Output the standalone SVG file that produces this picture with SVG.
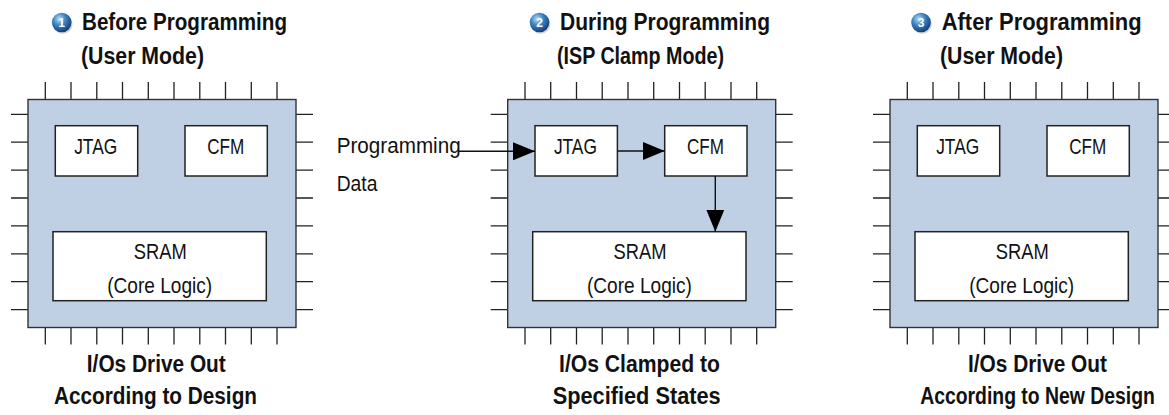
<svg xmlns="http://www.w3.org/2000/svg" xmlns:xlink="http://www.w3.org/1999/xlink" width="1169" height="415" viewBox="0 0 1169 415">
  <style>
    .chip { fill: #BFD0E5; stroke: #333; stroke-width: 1.4; }
    .blk { fill: #fff; stroke: #222; stroke-width: 1.5; }
    .pin { fill: none; stroke: #222; stroke-width: 1.3; }
    .wire { fill: none; stroke: #111; stroke-width: 1.4; }
    .title { font-family: "Liberation Sans Narrow", "Liberation Sans", Arial, sans-serif; font-weight: bold; font-size: 23.5px; fill: #111; }
    .lbl { font-family: "Liberation Sans Narrow", "Liberation Sans", Arial, sans-serif; font-size: 22px; fill: #111; }
    .num { font-family: "Liberation Sans", Arial, sans-serif; font-weight: bold; font-size: 12px; fill: #fff; }
  </style>
  <defs>
    <radialGradient id="ball" cx="0.38" cy="0.32" r="0.7">
      <stop offset="0" stop-color="#B9DDF5"/>
      <stop offset="0.45" stop-color="#3F86C4"/>
      <stop offset="1" stop-color="#0E3E78"/>
    </radialGradient>
    <marker id="arrow" markerUnits="userSpaceOnUse" markerWidth="22" markerHeight="18" viewBox="0 0 22 18" refX="22" refY="9" orient="auto">
      <path d="M0,0 L22,9 L0,18 Z" fill="#000"/>
    </marker>
    <!-- package outline with pins, laid out at the first chip's position -->
    <g id="pkg">
      <path class="pin" d="M45.3 82V99.5M71 82V99.5M96.8 82V99.5M122.5 82V99.5M148.3 82V99.5M174 82V99.5M199.8 82V99.5M225.5 82V99.5M251.3 82V99.5M277 82V99.5"/>
      <path class="pin" d="M45.3 327.5V344.5M71 327.5V344.5M96.8 327.5V344.5M122.5 327.5V344.5M148.3 327.5V344.5M174 327.5V344.5M199.8 327.5V344.5M225.5 327.5V344.5M251.3 327.5V344.5M277 327.5V344.5"/>
      <path class="pin" d="M11 114.3H28M11 142.2H28M11 170.1H28M11 198H28M11 225.9H28M11 253.8H28M11 281.7H28M11 309.6H28"/>
      <path class="pin" d="M296 114.3H313M296 142.2H313M296 170.1H313M296 198H313M296 225.9H313M296 253.8H313M296 281.7H313M296 309.6H313"/>
      <rect class="chip" x="28" y="99.5" width="268" height="228"/>
    </g>
    <g id="badge">
      <circle cx="1" cy="1.5" r="9.8" fill="#000" opacity="0.18"/>
      <circle cx="0" cy="0" r="9.8" fill="url(#ball)"/>
    </g>
  </defs>

  <!-- stage 1: before programming -->
  <g id="stage1">
    <use xlink:href="#badge" x="61.7" y="22.5"/>
    <text class="num" x="61.7" y="26.8" text-anchor="middle">1</text>
    <text class="title" x="82" y="30" textLength="205" lengthAdjust="spacingAndGlyphs">Before Programming</text>
    <text class="title" x="81" y="64" textLength="123" lengthAdjust="spacingAndGlyphs">(User Mode)</text>
    <use xlink:href="#pkg"/>
    <g id="jtag1">
      <rect class="blk" x="55.3" y="125.7" width="82.4" height="50.3"/>
      <text class="lbl" x="95.7" y="154" text-anchor="middle" textLength="43" lengthAdjust="spacingAndGlyphs">JTAG</text>
    </g>
    <g id="cfm1">
      <rect class="blk" x="185" y="125.7" width="82.3" height="50.3"/>
      <text class="lbl" x="225.7" y="154" text-anchor="middle" textLength="37" lengthAdjust="spacingAndGlyphs">CFM</text>
    </g>
    <g id="sram1">
      <rect class="blk" x="53" y="231.7" width="213.3" height="69"/>
      <text class="lbl" x="160.3" y="259" text-anchor="middle" textLength="53" lengthAdjust="spacingAndGlyphs">SRAM</text>
      <text class="lbl" x="159.7" y="293" text-anchor="middle" textLength="105" lengthAdjust="spacingAndGlyphs">(Core Logic)</text>
    </g>
    <text class="title" x="156.3" y="371.5" text-anchor="middle" textLength="139" lengthAdjust="spacingAndGlyphs">I/Os Drive Out</text>
    <text class="title" x="155.5" y="403.5" text-anchor="middle" textLength="203" lengthAdjust="spacingAndGlyphs">According to Design</text>
  </g>

  <!-- stage 2: during programming -->
  <g id="stage2">
    <use xlink:href="#badge" x="539.5" y="22.5"/>
    <text class="num" x="539.5" y="26.8" text-anchor="middle">2</text>
    <text class="title" x="560" y="30" textLength="210" lengthAdjust="spacingAndGlyphs">During Programming</text>
    <text class="title" x="557" y="64" textLength="167" lengthAdjust="spacingAndGlyphs">(ISP Clamp Mode)</text>
    <use xlink:href="#pkg" x="479.7"/>
    <g id="jtag2">
      <rect class="blk" x="535" y="125.7" width="82.4" height="50.3"/>
      <text class="lbl" x="575.4" y="154" text-anchor="middle" textLength="43" lengthAdjust="spacingAndGlyphs">JTAG</text>
    </g>
    <g id="cfm2">
      <rect class="blk" x="664.7" y="125.7" width="82.3" height="50.3"/>
      <text class="lbl" x="705.4" y="154" text-anchor="middle" textLength="37" lengthAdjust="spacingAndGlyphs">CFM</text>
    </g>
    <g id="sram2">
      <rect class="blk" x="532.7" y="231.7" width="213.3" height="69"/>
      <text class="lbl" x="640" y="259" text-anchor="middle" textLength="53" lengthAdjust="spacingAndGlyphs">SRAM</text>
      <text class="lbl" x="639.4" y="293" text-anchor="middle" textLength="105" lengthAdjust="spacingAndGlyphs">(Core Logic)</text>
    </g>
    <text class="lbl" x="336.7" y="153" textLength="124" lengthAdjust="spacingAndGlyphs">Programming</text>
    <text class="lbl" x="336.7" y="190.5" textLength="40.7" lengthAdjust="spacingAndGlyphs">Data</text>
    <text class="title" x="639.5" y="371.5" text-anchor="middle" textLength="161" lengthAdjust="spacingAndGlyphs">I/Os Clamped to</text>
    <text class="title" x="636.7" y="403.5" text-anchor="middle" textLength="168" lengthAdjust="spacingAndGlyphs">Specified States</text>
  </g>

  <!-- stage 3: after programming -->
  <g id="stage3">
    <use xlink:href="#badge" x="921" y="22.5"/>
    <text class="num" x="921" y="26.8" text-anchor="middle">3</text>
    <text class="title" x="941.7" y="30" textLength="200" lengthAdjust="spacingAndGlyphs">After Programming</text>
    <text class="title" x="940" y="64" textLength="123" lengthAdjust="spacingAndGlyphs">(User Mode)</text>
    <use xlink:href="#pkg" x="862"/>
    <g id="jtag3">
      <rect class="blk" x="917.3" y="125.7" width="82.4" height="50.3"/>
      <text class="lbl" x="957.7" y="154" text-anchor="middle" textLength="43" lengthAdjust="spacingAndGlyphs">JTAG</text>
    </g>
    <g id="cfm3">
      <rect class="blk" x="1047" y="125.7" width="82.3" height="50.3"/>
      <text class="lbl" x="1087.7" y="154" text-anchor="middle" textLength="37" lengthAdjust="spacingAndGlyphs">CFM</text>
    </g>
    <g id="sram3">
      <rect class="blk" x="915" y="231.7" width="213.3" height="69"/>
      <text class="lbl" x="1022.3" y="259" text-anchor="middle" textLength="53" lengthAdjust="spacingAndGlyphs">SRAM</text>
      <text class="lbl" x="1021.7" y="293" text-anchor="middle" textLength="105" lengthAdjust="spacingAndGlyphs">(Core Logic)</text>
    </g>
    <text class="title" x="1037.5" y="371.5" text-anchor="middle" textLength="139" lengthAdjust="spacingAndGlyphs">I/Os Drive Out</text>
    <text class="title" transform="translate(1037.5 403.5) scale(0.825 1)" x="0" y="0" text-anchor="middle">According to New Design</text>
  </g>

  <!-- programming data path -->
  <g id="connectors">
    <path class="wire" d="M458 151.3H535" marker-end="url(#arrow)"/>
    <path class="wire" d="M617.4 151H664.7" marker-end="url(#arrow)"/>
    <path class="wire" d="M715.3 176V231.7" marker-end="url(#arrow)"/>
  </g>
</svg>
